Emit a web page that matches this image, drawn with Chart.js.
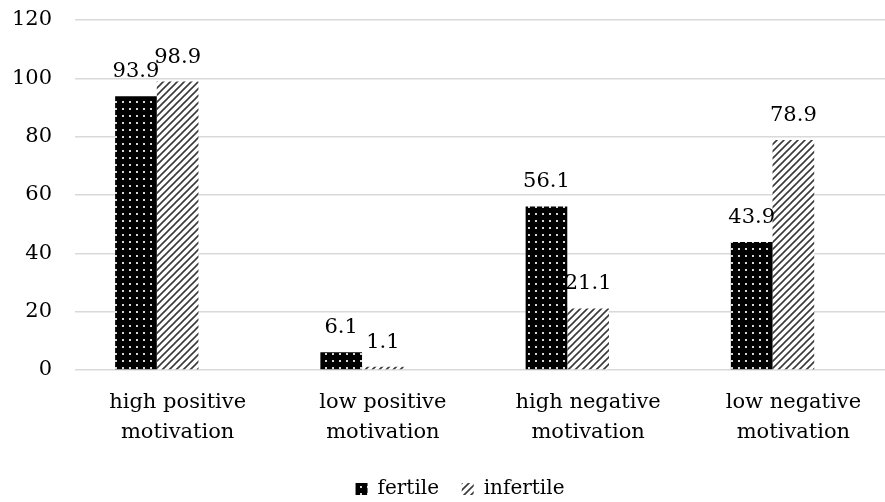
<!DOCTYPE html>
<html>
<head>
<meta charset="utf-8">
<script src="https://cdn.jsdelivr.net/npm/chart.js@4"></script>
<style>
  html, body { margin: 0; padding: 0; background: #fff; overflow: hidden; width: 885px; height: 502px; }
  #wrap { position: relative; width: 905px; height: 502px; }
</style>
</head>
<body>
<div id="wrap"><canvas id="c"></canvas></div>
<script>
const categories = [
  ['high positive', 'motivation'],
  ['low positive', 'motivation'],
  ['high negative', 'motivation'],
  ['low negative', 'motivation']
];
const seriesNames = ['fertile', 'infertile'];
const fertile = [93.9, 6.1, 56.1, 43.9];
const infertile = [98.9, 1.1, 21.1, 78.9];
const yTicks = [0, 20, 40, 60, 80, 100, 120];

const FONT = 'DejaVu Serif';
const PLOT_TOP = 20;
const LEGEND_SHIFT = 12;

function dotPattern() {
  const c = document.createElement('canvas');
  c.width = 7; c.height = 7;
  const g = c.getContext('2d');
  g.fillStyle = '#000';
  g.fillRect(0, 0, 7, 7);
  g.fillStyle = '#d8d8d8';
  g.fillRect(3, 3, 2, 2);
  return g.createPattern(c, 'repeat');
}
function stripePattern() {
  const s = 7;
  const c = document.createElement('canvas');
  c.width = s; c.height = s;
  const g = c.getContext('2d');
  g.fillStyle = '#fff';
  g.fillRect(0, 0, s, s);
  g.strokeStyle = '#3a3a3a';
  g.lineWidth = 1.6;
  g.beginPath();
  g.moveTo(-1, s + 1); g.lineTo(s + 1, -1);
  g.moveTo(-1, 1); g.lineTo(1, -1);
  g.moveTo(s - 1, s + 1); g.lineTo(s + 1, s - 1);
  g.stroke();
  return g.createPattern(c, 'repeat');
}

const layoutFix = {
  id: 'layoutFix',
  afterLayout(chart) {
    const y = chart.scales.y;
    chart.chartArea.top = PLOT_TOP;
    chart.chartArea.height = chart.chartArea.bottom - PLOT_TOP;
    y.top = PLOT_TOP;
    y.height = y.bottom - PLOT_TOP;
    y.configure();
    if (chart.legend) {
      chart.legend.left += LEGEND_SHIFT;
      chart.legend.right += LEGEND_SHIFT;
    }
  }
};

const valueLabels = {
  id: 'valueLabels',
  afterDatasetsDraw(chart) {
    const ctx = chart.ctx;
    ctx.save();
    ctx.font = '21px "' + FONT + '"';
    ctx.fillStyle = '#000';
    ctx.textAlign = 'center';
    ctx.textBaseline = 'alphabetic';
    [0, 1].forEach(di => {
      const meta = chart.getDatasetMeta(di);
      meta.data.forEach((bar, i) => {
        const v = chart.data.datasets[di].data[i];
        ctx.fillText(v.toFixed(1), bar.x, bar.y - 19);
      });
    });
    ctx.restore();
  }
};

new Chart(document.getElementById('c'), {
  type: 'bar',
  data: {
    labels: categories,
    datasets: [
      { label: seriesNames[0], data: fertile, backgroundColor: dotPattern(), borderWidth: 0 },
      { label: seriesNames[1], data: infertile, backgroundColor: stripePattern(), borderWidth: 0 },
      { label: '', data: categories.map(() => null), backgroundColor: 'rgba(0,0,0,0)', borderWidth: 0 }
    ]
  },
  options: {
    responsive: true,
    maintainAspectRatio: false,
    animation: false,
    devicePixelRatio: 1,
    datasets: { bar: { categoryPercentage: 0.609, barPercentage: 1.0 } },
    layout: { padding: { top: 0, right: 9, left: 0, bottom: -7 } },
    scales: {
      x: {
        grid: { display: false },
        border: { display: false },
        afterFit(scale) { scale.height = 99; },
        ticks: {
          color: '#000',
          font: { family: FONT, size: 21, lineHeight: 1.45 },
          padding: 9,
          maxRotation: 0,
          autoSkip: false
        }
      },
      y: {
        min: 0, max: 120,
        afterBuildTicks(scale) { scale.ticks = yTicks.map(v => ({ value: v })); },
        afterFit(scale) { scale.width = 75; },
        grid: { color: '#d9d9d9', lineWidth: 1.5, drawTicks: false },
        border: { display: false },
        ticks: {
          color: '#000',
          font: { family: FONT, size: 21 },
          padding: 23
        }
      }
    },
    plugins: {
      tooltip: { enabled: false },
      legend: {
        position: 'bottom',
        labels: {
          color: '#000',
          font: { family: FONT, size: 20 },
          boxWidth: 12,
          boxHeight: 12,
          padding: 10,
          filter: item => item.datasetIndex < 2,
          generateLabels(chart) {
            const items = Chart.defaults.plugins.legend.labels.generateLabels(chart);
            items.forEach(it => { if (it.datasetIndex === 0) it.text = it.text + '  '; it.lineWidth = 0; });
            return items;
          }
        }
      }
    }
  },
  plugins: [layoutFix, valueLabels]
});
</script>
</body>
</html>
